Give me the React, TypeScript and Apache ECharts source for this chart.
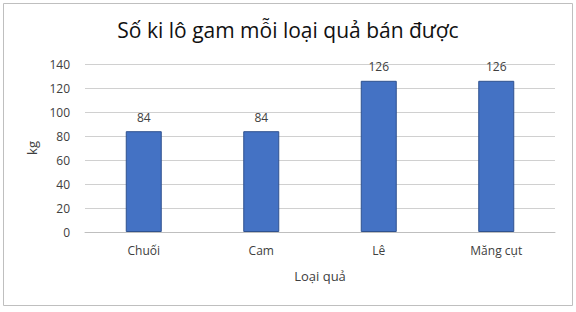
import React, { useEffect, useRef } from "react";
import * as echarts from "echarts";

const categories = ["Chuối", "Cam", "Lê", "Măng cụt"];
const values = [84, 84, 126, 126];
const titleText = "Số ki lô gam mỗi loại quả bán được";
const yName = "kg";
const xName = "Loại quả";

export default function App() {
  const ref = useRef<HTMLDivElement>(null);
  useEffect(() => {
    document.body.style.margin = "0";
    const chart = echarts.init(ref.current!, null, { renderer: "svg" });
    const font = "'Open Sans', 'Noto Sans', sans-serif";
    chart.setOption({
      animation: false,
      backgroundColor: "#ffffff",
      title: {
        text: titleText,
        left: 283,
        textAlign: "center",
        top: 14,
        textStyle: { fontFamily: font, fontSize: 21, fontWeight: "normal", color: "#111" },
      },
      graphic: [
        {
          type: "rect",
          shape: { x: 3.5, y: 3.5, width: 569, height: 302 },
          style: { fill: "none", stroke: "#bfbfbf", lineWidth: 1 },
          silent: true,
        },
      ],
      grid: { left: 85, right: 21, top: 64, bottom: 80 },
      xAxis: {
        type: "category",
        data: categories,
        name: xName,
        nameLocation: "middle",
        nameGap: 37,
        nameTextStyle: { fontFamily: font, fontSize: 13, color: "#404040" },
        axisLine: { lineStyle: { color: "#bfbfbf" } },
        axisTick: { show: false },
        axisLabel: { fontFamily: font, fontSize: 12, color: "#404040", margin: 12 },
      },
      yAxis: {
        type: "value",
        min: 0,
        max: 140,
        interval: 20,
        name: yName,
        nameLocation: "middle",
        nameGap: 47,
        nameTextStyle: { fontFamily: font, fontSize: 13, color: "#404040" },
        axisLine: { show: false },
        axisTick: { show: false },
        axisLabel: { fontFamily: font, fontSize: 12, color: "#404040", margin: 15 },
        splitLine: { lineStyle: { color: "#d0d0d0" } },
      },
      series: [
        {
          type: "bar",
          data: values,
          barWidth: 36,
          itemStyle: { color: "#4472c4", borderColor: "#2f528f", borderWidth: 1 },
          label: {
            show: true,
            position: "top",
            distance: 8,
            fontFamily: font,
            fontSize: 12,
            color: "#404040",
          },
        },
      ],
    });
    return () => chart.dispose();
  }, []);
  return <div ref={ref} style={{ width: 576, height: 312 }} />;
}
